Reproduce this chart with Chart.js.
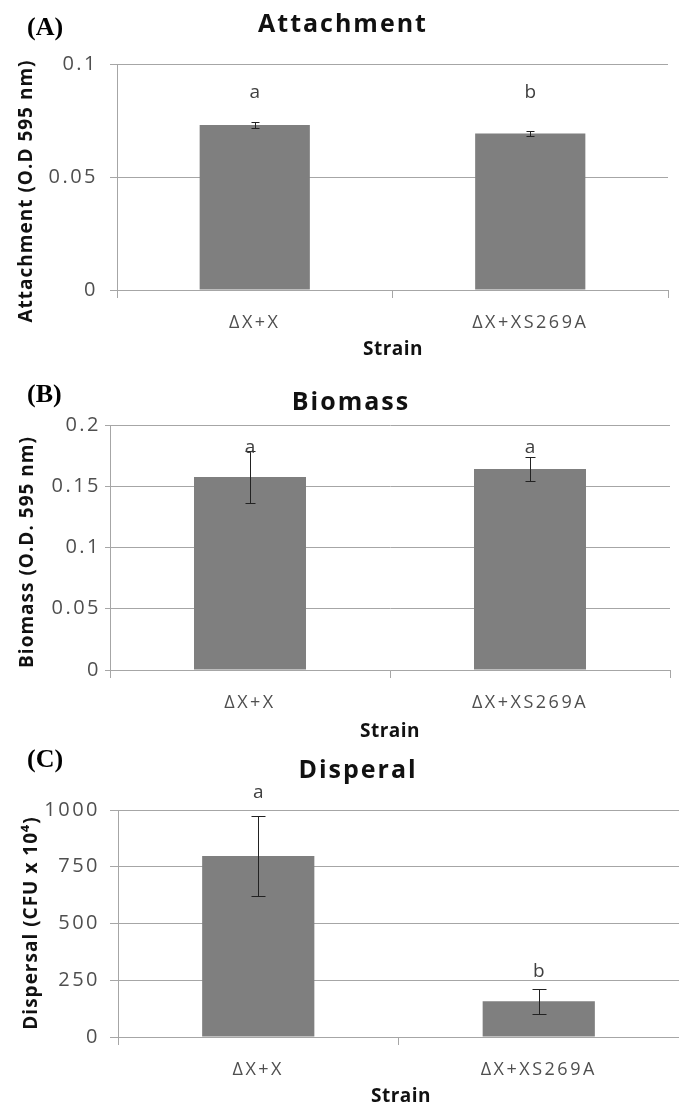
<!DOCTYPE html>
<html><head><meta charset="utf-8">
<script src="https://cdn.jsdelivr.net/npm/chart.js@4.4.1/dist/chart.umd.min.js"></script>
<style>
html,body{margin:0;padding:0;background:#fff;}
#wrap{position:relative;width:679px;height:1107px;overflow:hidden;background:#fff;}
canvas{position:absolute;left:0;}
</style></head><body>
<div id="wrap">
<canvas id="cA" width="679" height="360" style="top:0px"></canvas>
<canvas id="cB" width="679" height="382" style="top:360px"></canvas>
<canvas id="cC" width="679" height="365" style="top:742px"></canvas>
</div>
<script>
// ---------- data ----------
const strains = ['ΔX+X', 'ΔX+XS269A'];

const attachMean = [0.073, 0.0693];
const attachErr = [0.0015, 0.001];
const attachLetters = ['a', 'b'];
const attachLetterY = [0.085, 0.085];
const attachTicks = [0, 0.05, 0.1];
const attachTickLabels = ['0', '0.05', '0.1'];

const biomassMean = [0.1575, 0.164];
const biomassErr = [0.021, 0.010];
const biomassLetters = ['a', 'a'];
const biomassLetterY = [0.1775, 0.1775];
const biomassTicks = [0, 0.05, 0.1, 0.15, 0.2];
const biomassTickLabels = ['0', '0.05', '0.1', '0.15', '0.2'];

const dispMean = [797, 158];
const dispErr = [176, 55];
const dispLetters = ['a', 'b'];
const dispLetterY = [1052, 265];
const dispTicks = [0, 250, 500, 750, 1000];
const dispTickLabels = ['0', '250', '500', '750', '1000'];

// ---------- helpers ----------
const GRID = '#a6a6a6';
const BAR = '#7f7f7f';
const TICKCOL = '#4f4f4f';

function txt(ctx, s, x, y, font, color, align, spacing, rot) {
  ctx.save();
  ctx.font = font;
  ctx.fillStyle = color;
  ctx.textAlign = align;
  ctx.textBaseline = 'alphabetic';
  ctx.letterSpacing = spacing + 'px';
  ctx.translate(x, y);
  if (rot) ctx.rotate(rot);
  ctx.fillText(s, 0, 0);
  ctx.restore();
}

function makePlugin(p) {
  return {
    id: 'annot',
    beforeDraw(chart) { chart.ctx.letterSpacing = '2.5px'; },
    afterDatasetsDraw(chart) {
      const ctx = chart.ctx;
      const ys = chart.scales.y;
      const meta = chart.getDatasetMeta(0);
      meta.data.forEach((bar, i) => {
        const x = bar.x;
        const yt = ys.getPixelForValue(p.mean[i] + p.err[i]);
        const yb = ys.getPixelForValue(p.mean[i] - p.err[i]);
        ctx.save();
        ctx.strokeStyle = '#222';
        ctx.lineWidth = 1;
        ctx.beginPath();
        const xx = Math.round(x) + 0.5;
        ctx.moveTo(xx, Math.round(yt) + 0.5); ctx.lineTo(xx, Math.round(yb) + 0.5);
        ctx.moveTo(xx - p.cap, Math.round(yt) + 0.5); ctx.lineTo(xx + p.cap, Math.round(yt) + 0.5);
        ctx.moveTo(xx - p.cap, Math.round(yb) + 0.5); ctx.lineTo(xx + p.cap, Math.round(yb) + 0.5);
        ctx.stroke();
        ctx.restore();
        txt(ctx, p.letters[i], x, ys.getPixelForValue(p.letterY[i]), '19px "Open Sans"', '#404040', 'center', 0);
      });
    },
    afterDraw(chart) {
      const ctx = chart.ctx;
      const t = p.text;
      txt(ctx, t.title, t.titleX, t.titleY, 'bold 25px "Open Sans"', '#111', 'center', 2);
      txt(ctx, t.panel, 27, t.panelY, 'bold 26px "Liberation Serif"', '#000', 'left', 0);
      txt(ctx, t.yTitle, t.yTitleX, t.yTitleY, 'bold 19px "Open Sans"', '#111', 'center', 1, -Math.PI / 2);
      txt(ctx, 'Strain', t.xTitleX, t.xTitleY, 'bold 19px "Open Sans"', '#111', 'center', 0.5);
      ctx.letterSpacing = '2.5px';
    }
  };
}

function makeChart(id, p) {
  return new Chart(document.getElementById(id), {
    type: 'bar',
    data: {
      labels: strains,
      datasets: [{ data: p.mean, backgroundColor: BAR, borderWidth: 0,
        barPercentage: 0.4, categoryPercentage: 1 }]
    },
    options: {
      responsive: false,
      animation: false,
      events: [],
      layout: { padding: p.pad },
      plugins: { legend: { display: false }, tooltip: { enabled: false }, title: { display: false } },
      scales: {
        x: {
          afterFit: s => { s.height = p.xH; },
          ticks: { font: { family: 'Open Sans', size: 18 }, color: TICKCOL, padding: 14,
            maxRotation: 0, minRotation: 0, autoSkip: false },
          grid: { display: true, drawOnChartArea: false, drawTicks: true, tickLength: 8,
            color: GRID, lineWidth: 1, offset: true },
          border: { display: true, color: GRID, width: 1 }
        },
        y: {
          min: 0, max: p.ticks[p.ticks.length - 1],
          afterFit: s => { s.width = p.yW; },
          afterBuildTicks: s => { s.ticks = p.ticks.map(v => ({ value: v })); },
          ticks: { callback: (v, i) => p.tickLabels[i], font: { family: 'Open Sans', size: 20 },
            color: TICKCOL, padding: p.yPad, autoSkip: false },
          grid: { color: GRID, lineWidth: 1, drawTicks: true, tickLength: p.yTL },
          border: { display: true, color: GRID, width: 1 }
        }
      }
    },
    plugins: [makePlugin(p)]
  });
}

makeChart('cA', {
  mean: attachMean, err: attachErr, letters: attachLetters, letterY: attachLetterY,
  ticks: attachTicks, tickLabels: attachTickLabels,
  pad: { top: 64, right: 11, left: 0, bottom: 0 }, yW: 117, xH: 70, yPad: 12, yTL: 7, cap: 4,
  text: { title: 'Attachment', titleX: 343, titleY: 32, panel: '(A)', panelY: 35,
    yTitle: 'Attachment (O.D 595 nm)', yTitleX: 32, yTitleY: 191, xTitleX: 393, xTitleY: 355 }
});

makeChart('cB', {
  mean: biomassMean, err: biomassErr, letters: biomassLetters, letterY: biomassLetterY,
  ticks: biomassTicks, tickLabels: biomassTickLabels,
  pad: { top: 65, right: 9, left: 0, bottom: 0 }, yW: 110, xH: 72, yPad: 4, yTL: 5, cap: 5,
  text: { title: 'Biomass', titleX: 351, titleY: 50, panel: '(B)', panelY: 42,
    yTitle: 'Biomass (O.D. 595 nm)', yTitleX: 33, yTitleY: 192, xTitleX: 390, xTitleY: 377 }
});

makeChart('cC', {
  mean: dispMean, err: dispErr, letters: dispLetters, letterY: dispLetterY,
  ticks: dispTicks, tickLabels: dispTickLabels,
  pad: { top: 68, right: -5, left: 0, bottom: 0 }, yW: 118, xH: 70, yPad: 10, yTL: 8, cap: 7,
  text: { title: 'Disperal', titleX: 358, titleY: 36, panel: '(C)', panelY: 25,
    yTitle: 'Dispersal (CFU x 10⁴)', yTitleX: 37, yTitleY: 181, xTitleX: 401, xTitleY: 360 }
});
</script>
</body></html>
